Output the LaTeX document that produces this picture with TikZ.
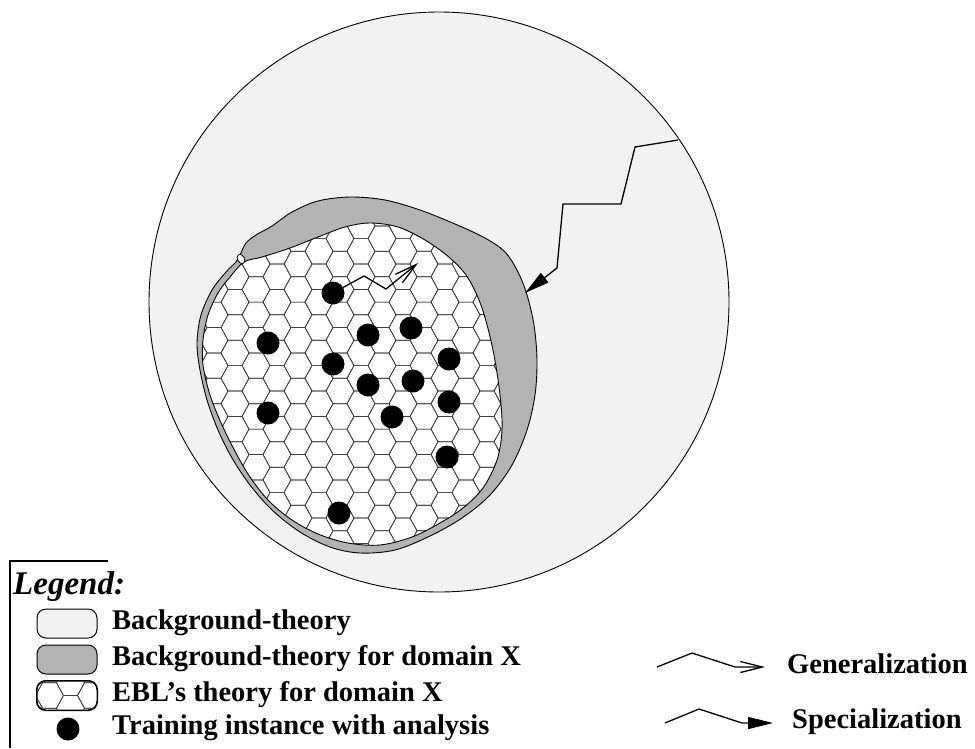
\documentclass[tikz,border=0pt]{standalone}
\usepackage{fontspec}
\setmainfont{Liberation Serif}
\usepackage{tikz}
\usetikzlibrary{arrows.meta}
\definecolor{BgLight}{HTML}{F2F2F2}
\definecolor{DomGray}{HTML}{B3B3B3}
\definecolor{HexGray}{HTML}{404040}
% one flat-topped hexagon of the EBL pattern
\newcommand{\hexcell}[2]{\draw[hexline] (#1,#2) ++(-14,0) -- ++(7,-12.7) -- ++(14,0) -- ++(7,12.7) -- ++(-7,12.7) -- ++(-14,0) -- cycle;}

\begin{document}
\begin{tikzpicture}[
    x=1pt, y=-1pt,
    font=\fontsize{28.5}{34}\selectfont\bfseries,
    hexline/.style={draw=HexGray, line width=0.7pt},
    dot/.style={circle, fill=black, inner sep=0pt, minimum size=23pt},
    legbox/.style={draw, line width=1pt, rounded corners=9pt, minimum width=60pt, minimum height=29pt, inner sep=0pt},
    legtext/.style={anchor=base west, inner sep=0pt},
    gen/.style={line width=1.3pt, -{Straight Barb[length=22pt, width=11pt]}},
    spec/.style={line width=1.3pt, -{Triangle[length=25pt, width=12pt]}}
]
\useasboundingbox (0,0) rectangle (975,748);

% background theory
\node[circle, draw, line width=0.9pt, fill=BgLight, inner sep=0pt, minimum size=580pt] (bg) at (439,302) {};

% background theory for domain X
\filldraw[fill=DomGray, line width=0.9pt] plot[smooth cycle, tension=0.55] coordinates {
    (240,255) (246,243) (256,235) (272,226) (292,212) (318,201) (350,197) (385,200)
    (420,210) (455,224) (485,238) (505,252) (518,272) (527,295) (534,325) (537,360)
    (535,395) (527,430) (512,465) (490,495) (462,518) (430,536) (395,550) (360,553)
    (330,547) (300,532) (272,510) (250,485) (232,458) (218,430) (207,400) (200,370)
    (197,343) (201,315) (212,290) (226,272) (236,262)};

% EBL's theory: hexagon pattern
\begin{scope}
    \clip plot[smooth cycle, tension=0.55] coordinates {
        (244,262) (262,257) (290,248) (318,237) (345,227) (370,223) (398,227) (425,240)
        (450,258) (468,278) (482,308) (493,350) (500,395) (502,430) (497,460) (483,488)
        (463,508) (440,523) (412,537) (380,545) (348,543) (318,534) (292,520) (270,502)
        (252,480) (237,455) (222,425) (210,395) (203,365) (203,340) (208,315) (218,293)
        (230,277)};
    \fill[white] (180,180) rectangle (560,570);
    \foreach \i in {0,...,17}{
        \foreach \j in {0,...,15}{
            \pgfmathsetmacro\hx{172+21*\i}
            \pgfmathsetmacro\hy{187.8+25.4*\j+12.7*mod(\i,2)}
            \hexcell{\hx}{\hy}
        }
    }
\end{scope}
\draw[line width=0.9pt] plot[smooth cycle, tension=0.55] coordinates {
    (244,262) (262,257) (290,248) (318,237) (345,227) (370,223) (398,227) (425,240)
    (450,258) (468,278) (482,308) (493,350) (500,395) (502,430) (497,460) (483,488)
    (463,508) (440,523) (412,537) (380,545) (348,543) (318,534) (292,520) (270,502)
    (252,480) (237,455) (222,425) (210,395) (203,365) (203,340) (208,315) (218,293)
    (230,277)};
\filldraw[fill=white, line width=0.8pt] (241,259) ellipse[x radius=3.5pt, y radius=5pt, rotate=30];

% training instances
\node[dot] (d1) at (333,293) {};
\node[dot] (d2) at (268,343) {};
\node[dot] (d3) at (368,335) {};
\node[dot] (d4) at (411,328) {};
\node[dot] (d5) at (333,364) {};
\node[dot] (d6) at (368,385) {};
\node[dot] (d7) at (413,381) {};
\node[dot] (d8) at (449,359) {};
\node[dot] (d9) at (449,402) {};
\node[dot] (d10) at (268,413) {};
\node[dot] (d11) at (392,417) {};
\node[dot] (d12) at (447,457) {};
\node[dot] (d13) at (339,513) {};

% generalization and specialization steps
\coordinate (gtip) at (418,263);
\draw[gen] (d1) -- (364,276) -- (386,289) -- (gtip);
\coordinate (sstart) at (678,140);
\coordinate (stip) at (525,293);
\draw[spec] (sstart) -- (635,147) -- (621,204) -- (563,204) -- (557,268) -- (stip);

% legend
\draw[line width=1.2pt] (108,561) -- (10,561) -- (10,748);
\node[legtext, font=\fontsize{33}{38}\selectfont\bfseries\itshape] (legtitle) at (13,594) {Legend:};
\node[legbox, fill=BgLight] (kbg) at (67,623.5) {};
\node[legbox, fill=DomGray] (kdom) at (67,659.5) {};
\node[legbox, fill=white] (kebl) at (67,695.5) {};
\begin{scope}
    \clip[rounded corners=9pt] (kebl.north west) rectangle (kebl.south east);
    \foreach \i in {0,...,4}{
        \foreach \j in {-1,0,1}{
            \pgfmathsetmacro\hx{28.5+21*\i}
            \pgfmathsetmacro\hy{695.5+25.4*\j-12.7*(1-mod(\i,2))}
            \hexcell{\hx}{\hy}
        }
    }
\end{scope}
\draw[line width=1pt, rounded corners=9pt] (kebl.north west) rectangle (kebl.south east);
\node[dot] (kdot) at (68,729) {};

\node[legtext] (tbg) at (112,629) {Background-theory};
\node[legtext] (tdom) at (112,665) {Background-theory for domain X};
\node[legtext] (tebl) at (112,701) {EBL’s theory for domain X};
\node[legtext] (tdot) at (112,734) {Training instance with analysis};

\coordinate (ga) at (657,667);
\coordinate (gb) at (765,667);
\draw[gen] (ga) -- (692,653) -- (735,667) -- (gb);
\node[legtext] (tgen) at (787,673) {Generalization};
\coordinate (sa) at (665,723);
\coordinate (sb) at (773,723);
\draw[spec] (sa) -- (699,709) -- (742,723) -- (sb);
\node[legtext] (tspec) at (792,728) {Specialization};
\end{tikzpicture}
\end{document}
